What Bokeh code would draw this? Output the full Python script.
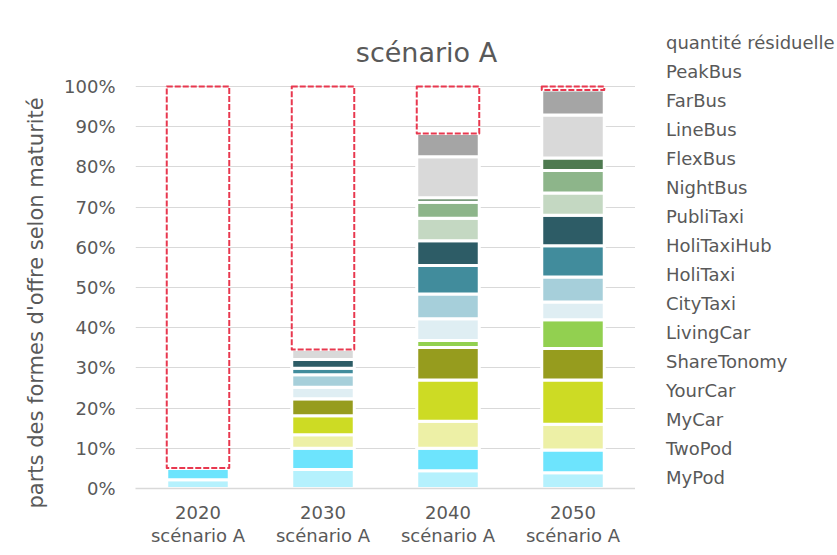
from bokeh.plotting import figure
from bokeh.layouts import row
from bokeh.models import (ColumnDataSource, FactorRange, FixedTicker, NumeralTickFormatter,
                          Legend, LegendItem, Title, Label, CategoricalAxis,
                          CustomJSTickFormatter, CDSView, IndexFilter)
from bokeh.transform import stack
from bokeh.embed import file_html
from bokeh.resources import INLINE

# ---------------- data ----------------
years = ["2020", "2030", "2040", "2050"]
scenario = "scénario A"

series = ["MyPod", "TwoPod", "MyCar", "YourCar", "ShareTonomy", "LivingCar", "CityTaxi",
          "HoliTaxi", "HoliTaxiHub", "PubliTaxi", "NightBus", "FlexBus", "LineBus",
          "FarBus", "PeakBus"]

MyPod       = [2.2, 4.7, 4.4, 3.9]
TwoPod      = [2.9, 5.3, 5.6, 5.7]
MyCar       = [0.0, 3.4, 6.7, 6.4]
YourCar     = [0.0, 4.7, 10.3, 11.0]
ShareTonomy = [0.0, 4.2, 8.1, 7.8]
LivingCar   = [0.0, 0.0, 1.7, 7.2]
CityTaxi    = [0.0, 2.9, 5.4, 4.4]
HoliTaxi    = [0.0, 3.1, 6.2, 6.2]
HoliTaxiHub = [0.0, 1.6, 7.1, 7.8]
PubliTaxi   = [0.0, 2.2, 6.1, 7.6]
NightBus    = [0.0, 0.0, 5.6, 5.5]
FlexBus     = [0.0, 0.0, 4.0, 5.6]
LineBus     = [0.0, 0.0, 1.1, 3.1]
FarBus      = [0.0, 2.5, 10.2, 10.7]
PeakBus     = [0.0, 0.0, 5.8, 6.2]
residual    = [94.9, 65.4, 11.7, 0.9]

colors = ["#b5f1fd", "#6de4fd", "#edf0a6", "#cddb24", "#969c1e", "#92d050", "#dfeef3",
          "#a6cfda", "#418c9c", "#2d5c66", "#c4d8c2", "#8db58a", "#4e7a50", "#d9d9d9",
          "#a5a5a5"]
residual_label = "quantité résiduelle"
residual_color = "#e8384f"
title_text = "scénario A"
y_title = "parts des formes d'offre selon maturité"

values = [MyPod, TwoPod, MyCar, YourCar, ShareTonomy, LivingCar, CityTaxi, HoliTaxi,
          HoliTaxiHub, PubliTaxi, NightBus, FlexBus, LineBus, FarBus, PeakBus]

data = {"cat": years}
for name, vals in zip(series, values):
    data[name] = [v / 100.0 for v in vals]
data["residual"] = [v / 100.0 for v in residual]
source = ColumnDataSource(data)

FONT = "DejaVu Sans"
TXT = "#595959"

# ---------------- main chart ----------------
p = figure(width=635, height=553, x_range=FactorRange(factors=years, range_padding=0),
           y_range=(0, 1.1368), output_backend="svg", toolbar_location=None,
           min_border_left=135, min_border_right=0, min_border_top=31,
           min_border_bottom=65)
p.outline_line_color = None
p.background_fill_color = "white"
p.border_fill_color = "white"

bar_kw = dict(x="cat", width=0.5, source=source)
p.vbar_stack(series, color=colors, line_color="white", line_width=3, **bar_kw)
p.vbar(bottom=stack(*series), top=stack(*series, "residual"), fill_alpha=0,
       line_color=residual_color, line_width=2, line_dash="6 2", line_join="round", **bar_kw)

yax = p.yaxis[0]
yax.ticker = FixedTicker(ticks=[i / 10 for i in range(11)])
yax.formatter = NumeralTickFormatter(format="0%")
yax.axis_line_color = None
yax.major_tick_line_color = None
yax.minor_tick_line_color = None
yax.major_tick_out = 0
yax.major_tick_in = 0
yax.major_label_standoff = 20
yax.major_label_text_font = FONT
yax.major_label_text_font_size = "18px"
yax.major_label_text_color = TXT

xax = p.xaxis[0]
xax.axis_line_color = "#d9d9d9"
xax.axis_line_width = 1.5
xax.major_tick_line_color = None
xax.major_tick_out = 0
xax.major_tick_in = 0
xax.major_label_standoff = 17
xax.major_label_text_font = FONT
xax.major_label_text_font_size = "18px"
xax.major_label_text_color = TXT

xax2 = CategoricalAxis(formatter=CustomJSTickFormatter(args=dict(sub=scenario), code="return sub"),
                       axis_line_color=None, major_tick_line_color=None,
                       minor_tick_line_color=None, major_tick_out=0, major_tick_in=0,
                       major_label_standoff=3, major_label_text_font=FONT,
                       major_label_text_font_size="18px", major_label_text_color=TXT)
p.add_layout(xax2, "below")

p.xgrid.grid_line_color = None
p.ygrid.grid_line_color = "#d9d9d9"
p.ygrid.grid_line_width = 1.2

p.add_layout(Title(text=y_title, align="left", offset=-20, vertical_align="middle",
                   standoff=26, text_font=FONT, text_font_size="21px",
                   text_font_style="normal", text_color=TXT), "left")

p.add_layout(Label(x=2.328, y=1.0846, text=title_text, text_align="center",
                   text_baseline="alphabetic", text_font=FONT, text_font_size="27px",
                   text_color=TXT))

# ---------------- legend panel (same series, no rows drawn) ----------------
pl = figure(width=202, height=553, x_range=FactorRange(factors=years), y_range=(2, 3),
            output_backend="svg", toolbar_location=None, x_axis_location=None,
            y_axis_location=None, min_border=0)
pl.outline_line_color = None
pl.grid.grid_line_color = None
pl.border_fill_color = "white"

empty_view = CDSView(filter=IndexFilter(indices=[]))
lr = pl.vbar_stack(series, color=colors, line_color="white", line_width=3,
                   view=empty_view, **bar_kw)
lres = pl.vbar(bottom=stack(*series), top=stack(*series, "residual"), fill_alpha=0,
               line_color=residual_color, line_width=2, line_dash="6 2",
               line_join="round", view=empty_view, **bar_kw)

items = [LegendItem(label=residual_label, renderers=[lres])]
for name, r in reversed(list(zip(series, lr))):
    items.append(LegendItem(label=name, renderers=[r]))
legend = Legend(items=items, location=(14, 0), padding=0, margin=0, spacing=7,
                label_height=22, glyph_height=10, glyph_width=10,
                label_standoff=7, border_line_color=None, background_fill_alpha=0,
                label_text_font=FONT, label_text_font_size="18px", label_text_color=TXT)
pl.add_layout(legend, "center")

open("out.html", "w").write(file_html(row(p, pl), INLINE))
